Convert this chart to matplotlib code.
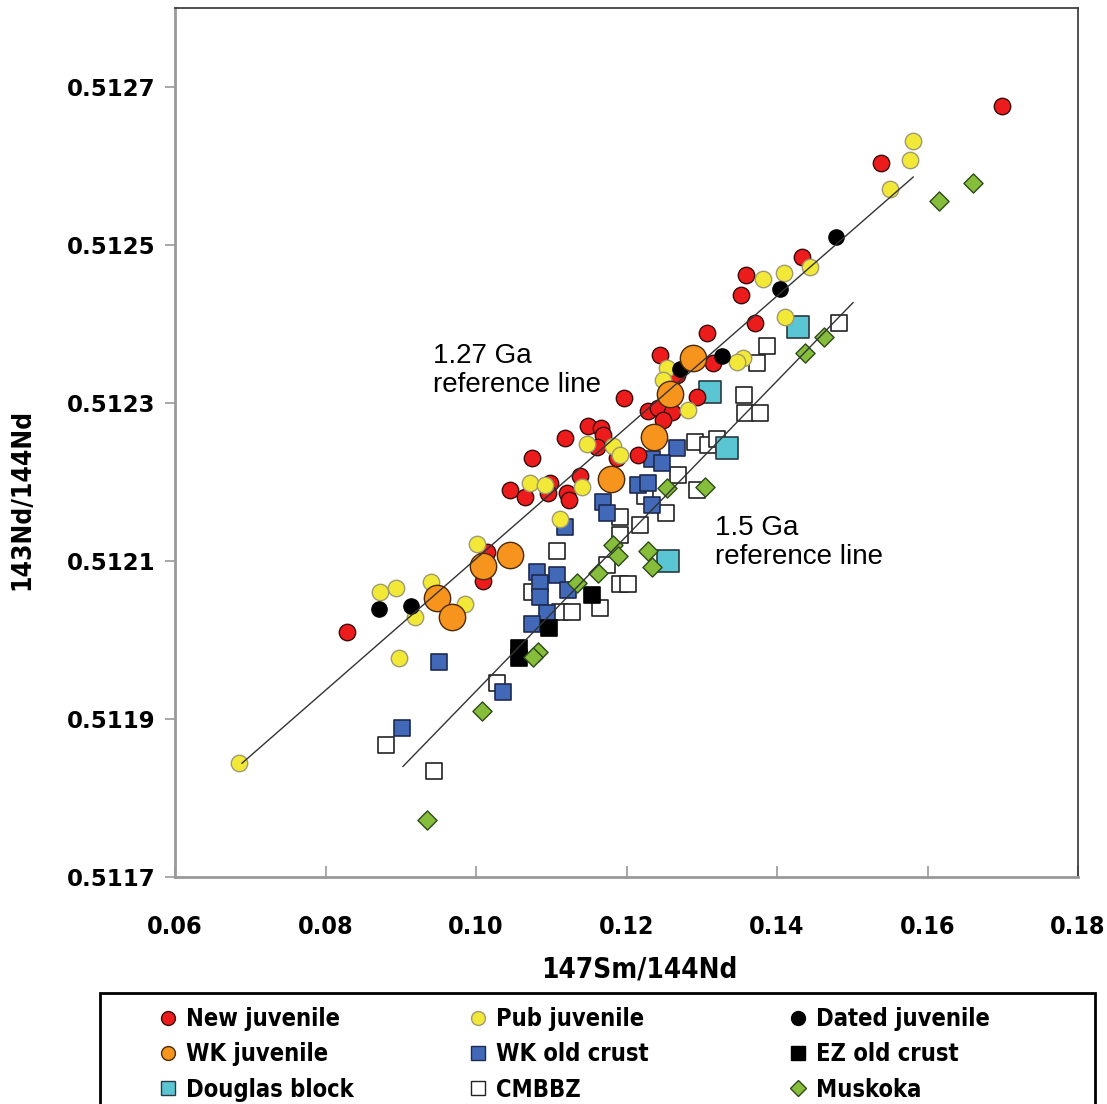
import matplotlib
matplotlib.use('Agg')
from matplotlib import pyplot as plt
from matplotlib.lines import Line2D
from matplotlib.patches import Rectangle

narrow = ['Liberation Sans Narrow', 'DejaVu Sans']

# New juvenile
new_x = [0.1699, 0.1538, 0.1433, 0.1359, 0.1352, 0.1371, 0.1307, 0.1245, 0.1315, 0.1267,
         0.1294, 0.1197, 0.1229, 0.1242, 0.1260, 0.1249, 0.1149, 0.1166, 0.1169, 0.1118,
         0.1161, 0.1187, 0.1215, 0.1074, 0.1138, 0.1045, 0.1065, 0.1098, 0.1096, 0.1121,
         0.1124, 0.1015, 0.1009, 0.0829]
new_y = [0.512676, 0.512604, 0.512485, 0.512462, 0.512437, 0.512401, 0.512389, 0.512361, 0.512351, 0.512335,
         0.512308, 0.512306, 0.512290, 0.512294, 0.512289, 0.512279, 0.512271, 0.512268, 0.512260, 0.512256,
         0.512244, 0.512230, 0.512234, 0.512230, 0.512208, 0.512190, 0.512181, 0.512199, 0.512186, 0.512186,
         0.512177, 0.512111, 0.512075, 0.512010]

# Pub juvenile
pub_x = [0.1581, 0.1577, 0.1550, 0.1444, 0.1381, 0.1409, 0.1411, 0.1355, 0.1347, 0.1254,
         0.1249, 0.1282, 0.1148, 0.1182, 0.1191, 0.1072, 0.1092, 0.1141, 0.1112, 0.1001,
         0.0940, 0.0894, 0.0872, 0.0985, 0.0919, 0.0898, 0.0685]
pub_y = [0.512632, 0.512608, 0.512571, 0.512472, 0.512457, 0.512465, 0.512409, 0.512357, 0.512352, 0.512344,
         0.512329, 0.512291, 0.512248, 0.512246, 0.512234, 0.512199, 0.512196, 0.512194, 0.512153, 0.512122,
         0.512073, 0.512066, 0.512061, 0.512046, 0.512029, 0.511977, 0.511844]

# Dated juvenile
dated_x = [0.1478, 0.1404, 0.1327, 0.1271, 0.0914, 0.0871]
dated_y = [0.512510, 0.512444, 0.512360, 0.512343, 0.512043, 0.512039]

# WK juvenile
wkj_x = [0.1288, 0.1258, 0.1237, 0.1179, 0.1045, 0.1009, 0.0948, 0.0968]
wkj_y = [0.512357, 0.512311, 0.512257, 0.512204, 0.512108, 0.512094, 0.512053, 0.512029]

# WK old crust
wko_x = [0.1267, 0.1234, 0.1247, 0.1215, 0.1229, 0.1169, 0.1174, 0.1234, 0.1118, 0.1081,
         0.1108, 0.1085, 0.1085, 0.1122, 0.1094, 0.1074, 0.1036, 0.0951, 0.0902]
wko_y = [0.512243, 0.512229, 0.512224, 0.512196, 0.512199, 0.512175, 0.512161, 0.512171, 0.512143, 0.512086,
         0.512082, 0.512072, 0.512054, 0.512063, 0.512034, 0.512020, 0.511934, 0.511972, 0.511889]

# EZ old crust
ez_x = [0.1154, 0.1097, 0.1057, 0.1057]
ez_y = [0.512057, 0.512015, 0.511990, 0.511977]

# Douglas block
doug_x = [0.1428, 0.1311, 0.1334, 0.1255]
doug_y = [0.512396, 0.512314, 0.512243, 0.512100]

# CMBBZ
cmb_x = [0.1482, 0.1387, 0.1373, 0.1356, 0.1357, 0.1377, 0.1291, 0.1308, 0.1320, 0.1268,
         0.1294, 0.1225, 0.1252, 0.1191, 0.1218, 0.1191, 0.1108, 0.1174, 0.1191, 0.1202,
         0.1074, 0.1165, 0.1112, 0.1128, 0.1028, 0.0880, 0.0944]
cmb_y = [0.512401, 0.512372, 0.512351, 0.512310, 0.512287, 0.512287, 0.512251, 0.512247, 0.512254, 0.512209,
         0.512190, 0.512182, 0.512161, 0.512156, 0.512146, 0.512133, 0.512113, 0.512095, 0.512071, 0.512071,
         0.512061, 0.512041, 0.512035, 0.512035, 0.511946, 0.511867, 0.511834]

# Muskoka
musk_x = [0.1660, 0.1615, 0.1462, 0.1437, 0.1304, 0.1254, 0.1182, 0.1189, 0.1229, 0.1234,
          0.1162, 0.1134, 0.1082, 0.1076, 0.1008, 0.0935]
musk_y = [0.512579, 0.512556, 0.512384, 0.512363, 0.512194, 0.512192, 0.512120, 0.512106, 0.512113, 0.512092,
          0.512085, 0.512072, 0.511985, 0.511978, 0.511910, 0.511772]

# reference lines (end points)
ref127_x = [0.0689, 0.1581]
ref127_y = [0.511844, 0.512586]
ref15_x = [0.0903, 0.1501]
ref15_y = [0.511840, 0.512427]

xticks = [0.06, 0.08, 0.10, 0.12, 0.14, 0.16, 0.18]
xtick_labels = ['0.06', '0.08', '0.10', '0.12', '0.14', '0.16', '0.18']
yticks = [0.5117, 0.5119, 0.5121, 0.5123, 0.5125, 0.5127]

fig = plt.figure(figsize=(11.07, 11.04), dpi=100)
ax = fig.add_axes([175 / 1107, 1 - 877 / 1104, 903 / 1107, 869 / 1104])

ax.scatter(cmb_x, cmb_y, marker='s', s=125, c='white', edgecolors='#222222', linewidths=1.2, zorder=2)
ax.scatter(wko_x, wko_y, marker='s', s=125, c='#4169b8', edgecolors='#1e2a50', linewidths=1.2, zorder=3)
ax.scatter(ez_x, ez_y, marker='s', s=125, c='black', edgecolors='black', linewidths=1.2, zorder=3)
ax.scatter(doug_x, doug_y, marker='s', s=250, c='#5bc6d3', edgecolors='#2a3a40', linewidths=1.2, zorder=3)
ax.scatter(musk_x, musk_y, marker='D', s=95, c='#86be3c', edgecolors='#2f4a1a', linewidths=1.0, zorder=4)
ax.scatter(new_x, new_y, marker='o', s=140, c='#ed1c1c', edgecolors='#3a0a0a', linewidths=1.0, zorder=4)
ax.scatter(pub_x, pub_y, marker='o', s=140, c='#f2e838', edgecolors='#a09a70', linewidths=1.0, zorder=5)
ax.scatter(dated_x, dated_y, marker='o', s=120, c='black', edgecolors='black', linewidths=1.0, zorder=5)
ax.scatter(wkj_x, wkj_y, marker='o', s=360, c='#f7941d', edgecolors='#4a2a08', linewidths=1.0, zorder=6)

ax.plot(ref127_x, ref127_y, color='#333333', lw=1.0, zorder=7)
ax.plot(ref15_x, ref15_y, color='#333333', lw=1.0, zorder=7)

ax.text(0.0943, 0.512341, '1.27 Ga\nreference line', fontsize=20, family='Liberation Sans',
        ha='left', va='center', linespacing=1.15, zorder=8)
ax.text(0.1318, 0.512123, '1.5 Ga\nreference line', fontsize=20, family='Liberation Sans',
        ha='left', va='center', linespacing=1.15, zorder=8)

ax.set_xlim(0.06, 0.18)
ax.set_ylim(0.5117, 0.5128)
ax.set_xticks(xticks)
ax.set_xticklabels(xtick_labels, family=narrow, fontweight='bold', fontstretch='condensed', fontsize=18)
ax.set_yticks(yticks)
ax.set_yticklabels(['%.4f' % v for v in yticks], family='DejaVu Sans', fontweight='bold', fontsize=16.5)
ax.tick_params(axis='x', direction='in', length=8, width=1.2, color='#999999', pad=27)
ax.tick_params(axis='y', direction='out', length=7, width=1.2, color='#999999', pad=7)

for side in ['left', 'bottom']:
    ax.spines[side].set_color('#999999')
    ax.spines[side].set_linewidth(2)
for side in ['top', 'right']:
    ax.spines[side].set_color('#333333')
    ax.spines[side].set_linewidth(1.2)

ax.set_xlabel('147Sm/144Nd', family=narrow, fontweight='bold', fontstretch='condensed', fontsize=20)
ax.xaxis.set_label_coords(0.514, -0.09)
ax.set_ylabel('143Nd/144Nd', family=narrow, fontweight='bold', fontstretch='condensed', fontsize=19)
ax.yaxis.set_label_coords(-0.155, 0.434)

# legend, three columns with one frame round them
def h(marker, face, edge, ms):
    return Line2D([], [], ls='none', marker=marker, markerfacecolor=face,
                  markeredgecolor=edge, markersize=ms, markeredgewidth=1.0)

cols = [
    ([h('o', '#ed1c1c', '#3a0a0a', 10), h('o', '#f7941d', '#4a2a08', 10), h('s', '#5bc6d3', '#2a3a40', 9.5)],
     ['New juvenile', 'WK juvenile', 'Douglas block'], 159),
    ([h('o', '#f2e838', '#a09a70', 10), h('s', '#4169b8', '#1e2a50', 9.5), h('s', 'white', '#222222', 9.5)],
     ['Pub juvenile', 'WK old crust', 'CMBBZ'], 469),
    ([h('o', 'black', 'black', 10), h('s', 'black', 'black', 9.5), h('D', '#86be3c', '#2f4a1a', 8)],
     ['Dated juvenile', 'EZ old crust', 'Muskoka'], 789),
]
for handles, labels, xpx in cols:
    fig.legend(handles, labels, loc='upper left', bbox_to_anchor=(xpx / 1107, 1 - 1007 / 1104),
               frameon=False, borderpad=0, borderaxespad=0, handlelength=0.8, handletextpad=0.35,
               labelspacing=0.48,
               prop={'family': narrow, 'weight': 'bold', 'stretch': 'condensed', 'size': 17})

fig.patches.append(Rectangle((100 / 1107, -0.02), 995 / 1107, 1 - 993 / 1104 + 0.02,
                             transform=fig.transFigure, fill=False, edgecolor='black', lw=2))

fig.savefig('out.png', dpi=100)
